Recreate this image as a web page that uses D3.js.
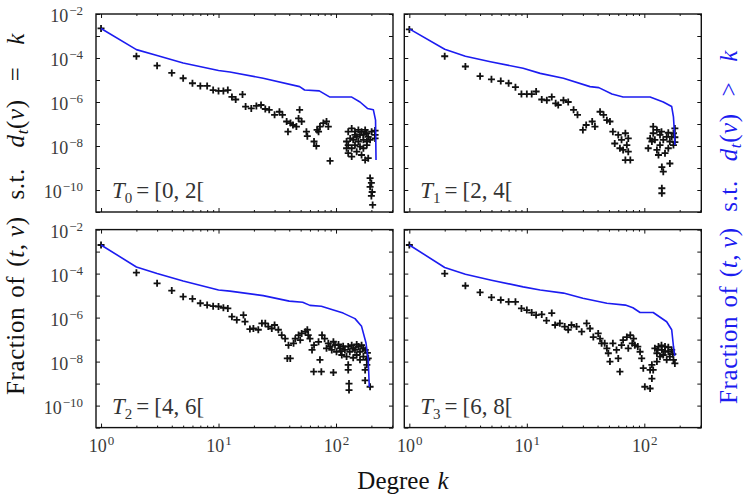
<!DOCTYPE html>
<html><head><meta charset="utf-8">
<script src="https://cdn.jsdelivr.net/npm/d3@7"></script>
<style>body{margin:0;background:#fff;} svg{display:block;}</style>
</head><body>
<svg id="chart" width="744" height="497"></svg>
<script>
// ---------- data ----------
const xMajorTicks = [1, 10, 100];
const xMinorTicks = [2,3,4,5,6,7,8,9,20,30,40,50,60,70,80,90,200,300];
const yDecadeTicks = [1e-11,1e-10,1e-9,1e-8,1e-7,1e-6,1e-5,1e-4,1e-3,1e-2];
const yLabelledTicks = [1e-10,1e-8,1e-6,1e-4,1e-2];
const panelNames = [["T","0","[0, 2["],["T","1","[2, 4["],["T","2","[4, 6["],["T","3","[6, 8["]];

const pmfT0 = [[1,2.2e-3],[2,1.2e-4],[3,4.5e-5],[4,2.1e-5],[5,1.2e-5],[6,7.1e-6],[7,5.4e-6],[8,5.4e-6],[9,3.5e-6],[10,3.2e-6],[11,3.2e-6],[12,3.5e-6],
 [13,1.7e-6],[14,1.3e-6],[16,2.2e-6],[17,6.2e-7],[19,5.1e-7],[21,6.6e-7],[23,7.3e-7],[25,4.8e-7],[27,4.4e-7],[30,2.6e-7],[33,3.6e-7],[35,2.6e-7],
 [38,1.3e-7],[41,1.1e-7],[39,4.5e-8],[43,9e-8],[46,7.6e-8],[48,1.8e-7],[49,4.4e-7],[51,1.3e-7],[56,4.5e-8],[57,2.8e-8],[65,1.6e-8],[68,1e-8],
 [69,5.4e-8],[71,4.5e-8],[73,7.6e-8],[78,1.1e-7],[83,1.3e-7],[86,7.6e-8],[89,2.1e-9],
 [127,4.5e-8],[136,6.3e-8],[145,4.5e-8],[155,5.4e-8],[165,4.5e-8],[177,5.4e-8],[183,3.8e-8],[132,2.2e-8],[140,1.9e-8],[150,2.6e-8],[160,3.2e-8],
 [171,1.9e-8],[183,1.6e-8],[127,1.1e-8],[136,7.9e-9],[145,1.1e-8],[160,9.3e-9],[171,7.9e-9],[183,1.1e-8],[127,4.7e-9],[136,3.3e-9],[150,5.5e-9],
 [165,3.9e-9],[177,2.3e-9],[188,2.8e-9],[155,1.6e-8],[195,1.9e-8],[123,1.6e-8],[123,7.9e-9],[201,4.5e-8],[215,3.2e-8],[145,3.2e-8],[171,3.2e-8],
 [188,2.6e-8],[215,5e-8],[215,2.2e-8],
 [195,3.5e-10],[200,2.1e-10],[195,1.4e-10],[203,8.1e-11],[200,5.4e-11],[205,2.1e-11]];
const ccdfT0 = [[1,2.2e-3],[2,2.4e-4],[3,1.3e-4],[5,5.9e-5],[10,2.7e-5],[12.5,2.3e-5],[24,1.2e-5],[49,5e-6],[54,3.5e-6],[72,3.2e-6],[88,1.7e-6],
 [135,1.7e-6],[160,1.0e-6],[185,5.1e-7],[208,4.4e-7],[217,1.5e-7],[219,2.3e-9]];

const pmfT1 = [[1,2e-3],[2,1.2e-4],[3,4.1e-5],[4,1.5e-5],[5,1.07e-5],[6,8.9e-6],[7,7.1e-6],[8,4.7e-6],[9,2.3e-6],[10,2.3e-6],[11,2.3e-6],[12,3e-6],
 [13.4,1.3e-6],[14.8,1.2e-6],[16.3,1.7e-6],[17.6,8.7e-7],[18.5,7.3e-7],[20.5,1.2e-6],[22.5,1e-6],[25,4.4e-7],[27,2.6e-7],[30,5.4e-8],[32,9e-8],
 [36,1.3e-7],[38,7.6e-8],[42,3.6e-7],[45,2.6e-7],[48,1.5e-7],[51,1.3e-7],[54,4.5e-8],[56,1.3e-8],[60,3.2e-8],[64,1.9e-8],[69,3.8e-8],[71,1.1e-8],
 [73,2.2e-8],[66,6.6e-9],[73,5.5e-9],[69,2.3e-9],[76,2.3e-9],[62,7.9e-9],
 [112,2.2e-8],[119,3.8e-8],[128,5.4e-8],[123,1.9e-8],[136,3.2e-8],[145,1.9e-8],[155,2.6e-8],[165,1.6e-8],[177,1.1e-8],[182,6.3e-8],[177,3.8e-8],
 [136,1.1e-8],[108,7.9e-9],[128,6.6e-9],[160,7.9e-9],[132,3.9e-9],[150,4.7e-9],[165,1.6e-9],[141,1.1e-9],[145,6.8e-10],[141,1.2e-10],[141,7.1e-11],
 [116,1.6e-8],[171,2.6e-8],[119,7.6e-8],[140,4.5e-8],[160,4e-8],[182,1.5e-8],[182,2.5e-8]];
const ccdfT1 = [[1,2.1e-3],[2,2.5e-4],[3,1.2e-4],[4.9,6.8e-5],[9.3,3.4e-5],[13,2e-5],[20.5,1.2e-5],[34.5,5e-6],[41,4.5e-6],[53,2.3e-6],[66,1.7e-6],
 [112,1.7e-6],[145,1e-6],[171,6.2e-7],[177,2.1e-7],[181,3e-8],[182,1.1e-8]];

const pmfT2 = [[1,2e-3],[2,1.1e-4],[3,3.6e-5],[4,1.7e-5],[5,8.9e-6],[6,7.1e-6],[7,4.5e-6],[8,3.7e-6],[9,3.3e-6],[10,3.2e-6],[11,2.8e-6],[12,2.6e-6],
 [13,1.1e-6],[14.3,7.8e-7],[16.3,1.3e-6],[16.8,6.5e-7],[18.5,3e-7],[19.8,3.2e-7],[21.8,2.8e-7],[23.4,5.5e-7],[25,5.5e-7],[26.5,3.9e-7],[28.4,3.2e-7],
 [30,4.6e-7],[32.3,2.8e-7],[34.5,1.6e-7],[36.9,1.1e-7],[39.4,5.6e-8],[40.8,1.4e-8],[38.5,1.4e-8],[43.5,6.8e-8],[45,1.1e-7],[48,1.6e-7],[49.6,9.5e-8],
 [51,1.9e-7],[55,2.3e-7],[58,1.6e-7],[57,2.8e-7],[60,1.1e-7],[62.5,3.4e-8],[64.6,3.5e-9],[75,3.5e-9],[95,3.2e-9],[73,1.2e-8],[80,1.1e-7],[86,6.8e-8],
 [89,4.8e-8],[83,4e-8],[92,3.4e-8],[98,5.6e-8],[101,2.8e-8],[108,4e-8],[112,2e-8],[119,3.4e-8],[123,1.7e-8],[127,4.8e-8],[131,2.8e-8],[136,5.6e-8],
 [145,3.4e-8],[150,2e-8],[155,4.8e-8],[160,2.8e-8],[165,5.6e-8],[171,1.7e-8],[177,3.4e-8],[183,1.2e-8],[188,1.4e-8],[127,7.1e-9],[127,4.2e-9],
 [129,1e-9],[129,5.1e-10],[177,4.2e-9],[177,1.4e-9],[183,7.1e-9],[195,7.2e-10],[76,1.6e-7],[71,7.9e-8],[65,5.6e-8],
 [105,6e-8],[115,5e-8],[140,4e-8],[150,6e-8],[170,4e-8],[185,2.5e-8],[140,1.5e-8],[160,1.2e-8],[110,3e-8],[95,8e-8]];
const ccdfT2 = [[1,2e-3],[2,2e-4],[3,1e-4],[5,4.6e-5],[10,1.8e-5],[12.5,1.6e-5],[24,1.0e-5],[40,5.6e-6],[52,5e-6],[60,3.6e-6],[75,3.3e-6],
 [95,2.2e-6],[115,1.6e-6],[145,9e-7],[165,4e-7],[180,7e-8],[188,1.2e-8],[192,7e-10]];

const pmfT3 = [[1,2e-3],[2,1e-4],[3,2.8e-5],[4,1.4e-5],[5,8.3e-6],[6,6.3e-6],[7,5.2e-6],[8,5.2e-6],[9,2.6e-6],[10,2.2e-6],[11,1.7e-6],[12,1.3e-6],
 [13.4,1.4e-6],[14.7,7.3e-7],[16.3,1.6e-6],[17.4,4.6e-7],[19.1,5.5e-7],[21,3.9e-7],[22.5,2.8e-7],[24,4.6e-7],[26.5,3.9e-7],[29.3,2.3e-7],[32.3,5.5e-7],
 [34.5,3.2e-7],[36.8,1.3e-7],[40.5,1.9e-7],[42,1.1e-7],[43.3,6.8e-8],[46,6.8e-8],[48,4e-8],[49.4,2.4e-8],[51,1e-8],[62,3.5e-9],[58,3.4e-8],[60,1.4e-8],
 [64,5.6e-8],[66,9.5e-8],[71,1.3e-7],[76,1.6e-7],[81,1.1e-7],[83,5.6e-8],[88,4.8e-8],[92,2.8e-8],[95,1.4e-8],[98,5e-9],[101,7.2e-10],[112,6e-10],
 [116,1.7e-9],[112,4.2e-9],[116,7.1e-9],[123,4e-8],[128,2.4e-8],[132,4.8e-8],[136,1.7e-8],[141,3.4e-8],[145,2e-8],[150,4.8e-8],[155,1.2e-8],
 [160,2.8e-8],[165,1.7e-8],[171,3.4e-8],[182,8.3e-9],[177,1.2e-8],[128,1e-8],[119,4.2e-9],[54,6.8e-8],[73,4e-8],[79,6.8e-8],
 [140,5.5e-8],[160,4.5e-8],[175,2.2e-8],[150,3e-8],[130,3.5e-8]];
const ccdfT3 = [[1,2e-3],[2,1.9e-4],[3,9.3e-5],[5,5e-5],[9.3,2.5e-5],[13,1.8e-5],[20.5,1.3e-5],[30,7.6e-6],[48,4.5e-6],[69,3.7e-6],[80,2.8e-6],
 [92,1.7e-6],[119,1.7e-6],[155,6.5e-7],[171,2.8e-7],[177,5e-8],[182,1.8e-8]];

// ---------- layout ----------
const PW = 297, PH = 198;
const panels = [
  {name: panelNames[0], pmf: pmfT0, ccdf: ccdfT0, px: 96,    py: 14,    xLab: false, yLab: true},
  {name: panelNames[1], pmf: pmfT1, ccdf: ccdfT1, px: 404.3, py: 14,    xLab: false, yLab: false},
  {name: panelNames[2], pmf: pmfT2, ccdf: ccdfT2, px: 96,    py: 229.6, xLab: true,  yLab: true},
  {name: panelNames[3], pmf: pmfT3, ccdf: ccdfT3, px: 404.3, py: 229.6, xLab: true,  yLab: false}
];
const FONT = "'Liberation Serif','Times New Roman',serif";
const BLUE = "#1c1cf0";

const svg = d3.select("#chart").style("font-family", FONT);
svg.append("rect").attr("width",744).attr("height",497).attr("fill","#fff");

const x = d3.scaleLog().domain([0.906, 305.5]).range([0, PW]);
const y = d3.scaleLog().domain([1e-11, 1e-2]).range([PH, 0]);

function powLabel(sel, expFn, supDy){
  sel.each(function(d){
    const t = d3.select(this);
    const e = expFn(d);
    t.text(null);
    t.append("tspan").text("10");
    t.append("tspan").attr("dy", supDy).attr("dx", 1).attr("font-size", 13).text(e < 0 ? "\u2212" + (-e) : String(e));
  });
}

panels.forEach(p => {
  const g = svg.append("g").attr("transform", `translate(${p.px},${p.py})`);

  // pmf markers
  const plus = "M-3.5,0H3.5M0,-3.5V3.5";
  g.append("g").selectAll("path").data(p.pmf).join("path")
    .attr("d", plus)
    .attr("transform", d => `translate(${x(d[0])},${y(d[1])})`)
    .attr("stroke", "#111").attr("stroke-width", 1.8).attr("fill", "none");

  // ccdf line
  const line = d3.line().x(d => x(d[0])).y(d => y(d[1]));
  g.append("path").datum(p.ccdf).attr("d", line)
    .attr("fill","none").attr("stroke", BLUE).attr("stroke-width", 1.6).attr("stroke-linejoin","round");

  // axes (ticks inward)
  const bottom = g.append("g").attr("transform", `translate(0,${PH})`)
    .call(d3.axisBottom(x).tickValues(xMajorTicks).tickSizeInner(-4).tickSizeOuter(0).tickPadding(12).tickFormat(p.xLab ? (d=>"x") : ""));
  g.append("g").attr("transform", `translate(0,${PH})`)
    .call(d3.axisBottom(x).tickValues(xMinorTicks).tickSizeInner(-2).tickSizeOuter(0).tickFormat(""));
  g.append("g").call(d3.axisTop(x).tickValues(xMajorTicks).tickSizeInner(-4).tickSizeOuter(0).tickFormat(""));
  g.append("g").call(d3.axisTop(x).tickValues(xMinorTicks).tickSizeInner(-2).tickSizeOuter(0).tickFormat(""));
  const left = g.append("g")
    .call(d3.axisLeft(y).tickValues(yDecadeTicks).tickSizeInner(-4).tickSizeOuter(0).tickPadding(13)
      .tickFormat(d => (p.yLab && yLabelledTicks.some(v => Math.abs(Math.log10(v) - Math.log10(d)) < 1e-6)) ? "x" : ""));
  g.append("g").attr("transform", `translate(${PW},0)`)
    .call(d3.axisRight(y).tickValues(yDecadeTicks).tickSizeInner(-4).tickSizeOuter(0).tickFormat(""));

  g.selectAll(".domain").remove();
  g.selectAll(".tick line").attr("stroke", "#111").attr("stroke-width", 1);
  g.selectAll(".tick text").attr("font-family", FONT).attr("fill", "#3a3a3a").attr("font-size", 18);

  if (p.xLab) {
    powLabel(bottom.selectAll(".tick text"), d => Math.round(Math.log10(d)), -7);
  }
  if (p.yLab) {
    left.selectAll(".tick text").filter(function(){ return d3.select(this).text() !== ""; })
      .attr("dy", "0.42em")
      .call(s => powLabel(s, d => Math.round(Math.log10(d)), -7));
  }

  // frame
  g.append("rect").attr("width", PW).attr("height", PH)
    .attr("fill","none").attr("stroke","#111").attr("stroke-width",1.4);

  // panel label
  const lt = g.append("text").attr("x", 16).attr("y", PH - 14)
    .attr("font-size", 23).attr("fill", "#333").attr("font-family", FONT);
  lt.append("tspan").attr("font-style","italic").text(p.name[0]);
  lt.append("tspan").attr("font-size", 15).attr("dy", 5).text(p.name[1]);
  lt.append("tspan").attr("dy", -5).attr("dx", 4).text("=");
  lt.append("tspan").attr("dx", 5).text(p.name[2]);
});

// axis titles: math-style label; gaps scaled so the label reaches the target length
function mathLabel(sel, rel, color, len){
  sel.attr("fill", color).attr("font-size", 25).attr("font-family", FONT).attr("letter-spacing", 0.6);
  // [text, base gap before, dy, italic, size]
  const parts = [
    ["Fraction", 0, 0, false], ["of", 7, 0, false], ["(", 7, 0, false], ["t", 0, 0, true], [",", 0, 0, false],
    ["v", 5, 0, true], [")", 0, 0, false], ["s.t.", 13, 0, false], ["d", 16, 0, true], ["t", 0, 4, true, 17],
    ["(", 0, -4, false], ["v", 0, 0, true], [")", 0, 0, false], [rel, 14, 0, false], ["k", 17, 0, true]
  ];
  const spans = parts.map(pt => {
    const s = sel.append("tspan").text(pt[0]);
    if (pt[1]) s.attr("dx", pt[1]);
    if (pt[2]) s.attr("dy", pt[2]);
    if (pt[3]) s.attr("font-style", "italic");
    if (pt[4]) s.attr("font-size", pt[4]);
    return {s, g: pt[1]};
  });
  const natural = sel.node().getComputedTextLength() + d3.sum(spans, d => d.g);
  const totalG = d3.sum(spans, d => d.g);
  const diff = len - natural;
  spans.forEach(d => { if (d.g) d.s.attr("dx", Math.max(2, d.g + diff * d.g / totalG)); });
}
mathLabel(svg.append("text").attr("text-anchor","middle")
  .attr("transform","translate(24,214) rotate(-90)"), "=", "#111", 362);
mathLabel(svg.append("text").attr("text-anchor","middle")
  .attr("transform","translate(737,227) rotate(-90)"), ">", BLUE, 354);

const xl = svg.append("text").attr("x", 403).attr("y", 489).attr("text-anchor","middle")
  .attr("font-size", 25).attr("fill","#111").attr("font-family", FONT);
xl.append("tspan").text("Degree");
xl.append("tspan").attr("dx", 8).attr("font-style","italic").text("k");
</script>
</body></html>
